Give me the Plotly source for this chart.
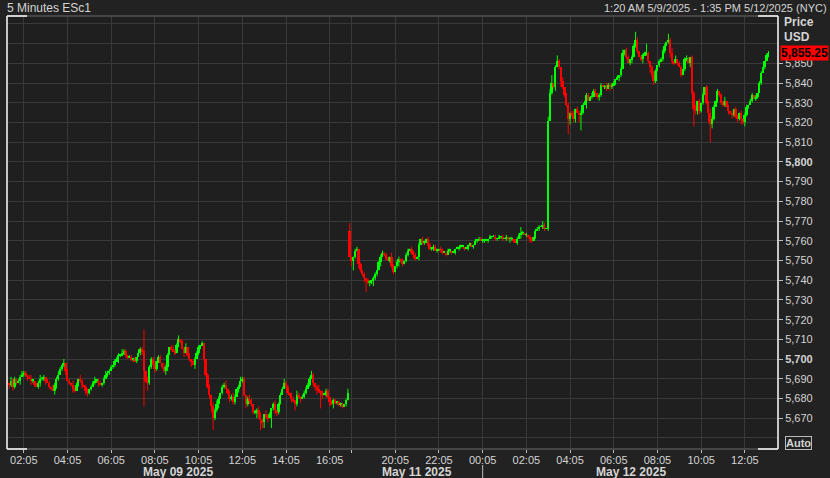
import plotly.graph_objects as go

# ---------------- data ----------------
# Session 1: May 09 2025, 5-min candles 01:20 .. 16:55 (closes, by hour)
S1_CLOSE = [
    5688, 5687, 5689, 5686, 5690, 5688, 5689, 5691,
    5692, 5693, 5692, 5691, 5690, 5689, 5689, 5687, 5686, 5688, 5690, 5690,
    5691, 5689, 5688, 5686, 5685, 5684, 5687, 5690, 5692, 5695, 5697, 5698,
    5694, 5689, 5688, 5687, 5685, 5684, 5687, 5690, 5689, 5687, 5686, 5684,
    5683, 5685, 5686, 5688, 5689, 5689, 5688, 5687, 5688, 5690, 5692, 5693,
    5694, 5696, 5697, 5699, 5700, 5702, 5702, 5703, 5704, 5702, 5701, 5701,
    5700, 5700, 5699, 5701, 5703, 5705, 5704, 5694, 5689, 5688, 5696, 5700,
    5697, 5695, 5699, 5701, 5698, 5696, 5694, 5696, 5702, 5706, 5705, 5704,
    5703, 5707, 5710, 5709, 5705, 5703, 5706, 5702, 5700, 5699, 5697, 5700,
    5703, 5706, 5707, 5708, 5700, 5692, 5686, 5682, 5676, 5670, 5674, 5677,
    5680, 5683, 5686, 5687, 5685, 5683, 5680, 5681, 5678, 5681, 5685, 5686,
    5689, 5690, 5682, 5677, 5680, 5679, 5677, 5673, 5673, 5674, 5672, 5669,
    5668, 5672, 5671, 5670, 5672, 5675, 5677, 5674, 5673, 5677, 5682, 5685,
    5688, 5686, 5683, 5682, 5680, 5679, 5677, 5682, 5681, 5680, 5681, 5683,
    5685, 5687, 5690, 5692, 5688, 5686, 5685, 5684, 5683, 5682, 5682, 5684,
    5681, 5678, 5677, 5679, 5678, 5678, 5677, 5677, 5676, 5677, 5679, 5683,
]
S1_FIRST_OPEN = 5689
S1_WICK_UP = ("10211011" "211012101121" "101102112102" "011021102101" "101120110121"
              "110111021101" "101021100211" "120110211012" "112011201011" "110100110212"
              "101120112101" "211012101121" "102110120111" "211011021011" "111210120111"
              "101110111012")
S1_WICK_DN = ("12121102" "011202110121" "120110221011" "201121011202" "211011201101"
              "101102101110" "110101211011" "021101122010" "101102011302" "011011123411"
              "201101211102" "011212111323" "231201122100" "011121311201" "101022311201"
              "120211111010")
S1_HIGH_OVR = {75: 5715, 167: 5694}
S1_LOW_OVR = {75: 5676, 77: 5684, 113: 5664, 139: 5664, 140: 5665, 145: 5665, 172: 5675}

# Session 2: May 11 18:00 .. May 12 2025 (closes, by hour)
S2_CLOSE = [
    5752, 5750, 5752, 5755, 5756, 5748, 5745, 5743, 5741, 5740, 5739, 5739,
    5740, 5741, 5743, 5745, 5749, 5752, 5754, 5753, 5751, 5750, 5752, 5747,
    5744, 5747, 5749, 5751, 5750, 5748, 5750, 5753, 5755, 5756, 5754, 5753,
    5751, 5752, 5758, 5761, 5759, 5759, 5761, 5758, 5756, 5756, 5757, 5755,
    5755, 5756, 5755, 5754, 5754, 5753, 5755, 5755, 5754, 5754, 5756, 5756,
    5757, 5757, 5757, 5756, 5756, 5758, 5758, 5757, 5758, 5760, 5760, 5761,
    5760, 5760, 5760, 5760, 5761, 5762, 5762, 5762, 5761, 5761, 5762, 5762,
    5761, 5761, 5762, 5761, 5761, 5761, 5760, 5759, 5761, 5763, 5764, 5764,
    5763, 5763, 5762, 5761, 5760, 5762, 5765, 5766, 5767, 5767, 5768, 5766,
    5766, 5821, 5835, 5840, 5838, 5848, 5851, 5848, 5841, 5838, 5834, 5829,
    5822, 5825, 5824, 5822, 5827, 5825, 5824, 5825, 5829, 5829, 5834, 5831,
    5833, 5833, 5836, 5835, 5833, 5834, 5839, 5838, 5838, 5837, 5839, 5838,
    5839, 5840, 5842, 5843, 5844, 5847, 5855, 5857, 5853, 5850, 5852, 5853,
    5859, 5862, 5856, 5853, 5852, 5854, 5855, 5855, 5851, 5848, 5844, 5841,
    5846, 5849, 5851, 5852, 5856, 5859, 5861, 5862, 5855, 5851, 5850, 5852,
    5850, 5848, 5844, 5847, 5852, 5852, 5850, 5853, 5835, 5827, 5826, 5831,
    5826, 5830, 5834, 5838, 5830, 5825, 5819, 5822, 5828, 5831, 5836, 5834,
    5830, 5829, 5831, 5828, 5826, 5825, 5824, 5827, 5823, 5822, 5825, 5822,
    5820, 5824, 5828, 5829, 5831, 5834, 5832, 5833, 5835, 5840, 5845, 5848,
    5851, 5854, 5855.25,
]
S2_FIRST_OPEN = 5765
S2_WICK_UP = ("400110101011" "011011101102" "101101011011" "101011011011" "101101110101"
              "011010110101" "101101011010" "101011011121" "010110111021" "022301110201"
              "101201110211" "021101101211" "110101201101" "141011121012" "101111011302"
              "011012101120" "101011211010" "112010101101" "011011010110" "011")
S2_WICK_DN = ("031102112312" "131102011011" "101211011012" "102011011110" "101101011010"
              "110101101010" "011010101101" "101121101021" "011210101011" "010112013111"
              "831220411020" "010212101102" "101021011012" "011012011312" "101011012110"
              "101011021322" "211015521011" "111021211213" "121101011010" "101")
S2_HIGH_OVR = {0: 5769, 94: 5767, 111: 5844, 114: 5854, 157: 5866, 163: 5860, 175: 5865}
S2_LOW_OVR = {2: 5745, 9: 5734, 13: 5737, 120: 5814, 127: 5816, 189: 5818, 198: 5810}

LAST_PRICE = 5855.25
S2_START_INDEX = 188

X_TICK_POS = [9, 33, 57, 81, 105, 129, 153, 177, 189,
              213, 237, 261, 285, 309, 333, 357, 381, 405]
X_TICK_TEXT = ["02:05", "04:05", "06:05", "08:05", "10:05", "12:05", "14:05", "16:05", "",
               "20:05", "22:05", "00:05", "02:05", "04:05", "06:05", "08:05", "10:05", "12:05"]
DAY_LABELS = ["May 09 2025", "May 11 2025", "May 12 2025"]
DAY_LABEL_POS = [93.7, 225, 342.4]
DAY_DIVIDER_POS = 261

Y_TICKS = list(range(5670, 5851, 10))
Y_GRID_EXTRA = [5660, 5860, 5870]


def build(closes, first_open, wu, wd, hi_ovr, lo_ovr):
    o, h, l = [], [], []
    for k, c in enumerate(closes):
        op = first_open if k == 0 else closes[k - 1]
        o.append(op)
        h.append(hi_ovr.get(k, max(op, c) + int(wu[k])))
        l.append(lo_ovr.get(k, min(op, c) - int(wd[k])))
    return o, h, l


o1, h1, l1 = build(S1_CLOSE, S1_FIRST_OPEN, S1_WICK_UP, S1_WICK_DN, S1_HIGH_OVR, S1_LOW_OVR)
o2, h2, l2 = build(S2_CLOSE, S2_FIRST_OPEN, S2_WICK_UP, S2_WICK_DN, S2_HIGH_OVR, S2_LOW_OVR)

x = list(range(len(S1_CLOSE))) + [S2_START_INDEX + k for k in range(len(S2_CLOSE))]
opens = o1 + o2
highs = h1 + h2
lows = l1 + l2
closes = S1_CLOSE + S2_CLOSE

GREEN = "#00ff00"
RED = "#ff0000"
TXT = "#d4d4d4"
FONT = "Liberation Sans, Arial, sans-serif"

up = [c >= o for o, c in zip(opens, closes)]
body_base = [min(o, c) for o, c in zip(opens, closes)]
body_h = [max(abs(c - o), 0.4) for o, c in zip(opens, closes)]
colors = [GREEN if u else RED for u in up]

fig = go.Figure()
for want, col in ((True, GREEN), (False, RED)):
    wx, wy = [], []
    for xi, hi, lo, u in zip(x, highs, lows, up):
        if u == want:
            wx += [xi, xi, None]
            wy += [lo, hi, None]
    fig.add_trace(go.Scatter(x=wx, y=wy, mode="lines", line=dict(color=col, width=1),
                             hoverinfo="skip", showlegend=False))
fig.add_trace(go.Bar(x=x, y=body_h, base=body_base, width=1.0,
                     marker=dict(color=colors, line=dict(width=0)),
                     hoverinfo="skip", showlegend=False))

W, H = 830, 478
L, R, T, B = 7, 778, 16, 449


def px(xp):
    return (xp - L) / (R - L)


def py(yp):
    return (B - yp) / (B - T)


fig.update_layout(
    width=W, height=H,
    margin=dict(l=L, r=W - R, t=T, b=H - B, pad=0),
    paper_bgcolor="#222222", plot_bgcolor="#1e1f1e",
    font=dict(family=FONT, size=11, color=TXT),
    xaxis=dict(
        range=[-0.22, 423.2],
        tickmode="array", tickvals=X_TICK_POS, ticktext=X_TICK_TEXT,
        ticks="outside", ticklen=3, tickcolor="#bbbbbb", tickwidth=1,
        ticklabelstandoff=-2,
        showgrid=True, gridcolor="#393939", gridwidth=1,
        zeroline=False, showline=False,
        tickfont=dict(size=11, color=TXT, family=FONT),
    ),
    yaxis=dict(
        range=[5654.4, 5874.0], side="right",
        tickmode="array", tickvals=Y_TICKS,
        ticktext=[("<b>%s</b>" if v % 100 == 0 else "%s") % f"{v:,}" for v in Y_TICKS],
        ticks="outside", ticklen=4, tickcolor="#bbbbbb", tickwidth=1,
        showgrid=True, gridcolor="#393939", gridwidth=1,
        minor=dict(tickvals=Y_GRID_EXTRA, showgrid=True, gridcolor="#393939", ticks=""),
        zeroline=False, showline=False,
        tickfont=dict(size=11, color=TXT, family=FONT),
    ),
    hovermode=False,
    bargap=0,
)

shapes = []
# frame: white sides, grey top/bottom with white corners
shapes.append(dict(type="line", xref="paper", yref="paper", x0=0, x1=0, y0=0, y1=1,
                   line=dict(color="#ffffff", width=1.5)))
shapes.append(dict(type="line", xref="paper", yref="paper", x0=1, x1=1, y0=0, y1=1,
                   line=dict(color="#ffffff", width=1.5)))
for yy in (0, 1):
    shapes.append(dict(type="line", xref="paper", yref="paper", x0=0, x1=1, y0=yy, y1=yy,
                       line=dict(color="#6a6a6a", width=1)))
    shapes.append(dict(type="line", xref="paper", yref="paper", x0=0, x1=px(L + 20), y0=yy, y1=yy,
                       line=dict(color="#ffffff", width=1.5)))
    shapes.append(dict(type="line", xref="paper", yref="paper", x0=px(R - 20), x1=1, y0=yy, y1=yy,
                       line=dict(color="#ffffff", width=1.5)))
# day divider under the axis
shapes.append(dict(type="line", xref="x", yref="paper", x0=DAY_DIVIDER_POS, x1=DAY_DIVIDER_POS,
                   y0=py(465), y1=py(478), line=dict(color="#bbbbbb", width=1)))
fig.update_layout(shapes=shapes)

ann = []
ann.append(dict(text="5 Minutes ESc1", xref="paper", yref="paper", x=px(5), y=py(8),
                xanchor="left", yanchor="middle", showarrow=False,
                font=dict(size=12, color=TXT, family=FONT)))
ann.append(dict(text="1:20 AM 5/9/2025 - 1:35 PM 5/12/2025 (NYC)", xref="paper", yref="paper",
                x=px(829), y=py(8), xanchor="right", yanchor="middle", showarrow=False,
                font=dict(size=11, color=TXT, family=FONT)))
ann.append(dict(text="<b>Price</b>", xref="paper", yref="paper", x=px(782), y=py(22),
                xanchor="left", yanchor="middle", showarrow=False,
                font=dict(size=12, color=TXT, family=FONT)))
ann.append(dict(text="<b>USD</b>", xref="paper", yref="paper", x=px(782), y=py(37),
                xanchor="left", yanchor="middle", showarrow=False,
                font=dict(size=12, color=TXT, family=FONT)))
ann.append(dict(text="<b>%s</b>" % f"{LAST_PRICE:,.2f}", xref="paper", yref="y", x=px(780), y=LAST_PRICE,
                xanchor="left", yanchor="middle", showarrow=False, bgcolor=RED, borderpad=0,
                font=dict(size=12, color="#000000", family=FONT)))
ann.append(dict(text="<b>Auto</b>", xref="paper", yref="paper", x=px(785), y=py(442.5),
                xanchor="left", yanchor="middle", showarrow=False, bordercolor="#bbbbbb",
                borderwidth=1, borderpad=0, font=dict(size=11, color=TXT, family=FONT)))
for lab, pos in zip(DAY_LABELS, DAY_LABEL_POS):
    ann.append(dict(text="<b>%s</b>" % lab, xref="x", yref="paper", x=pos, y=py(472),
                    xanchor="center", yanchor="middle", showarrow=False,
                    font=dict(size=12, color=TXT, family=FONT)))
fig.update_layout(annotations=ann)

fig.write_html("out.html", config={"displayModeBar": False},
               post_script="document.body.style.margin='0';document.body.style.overflow='hidden';")
